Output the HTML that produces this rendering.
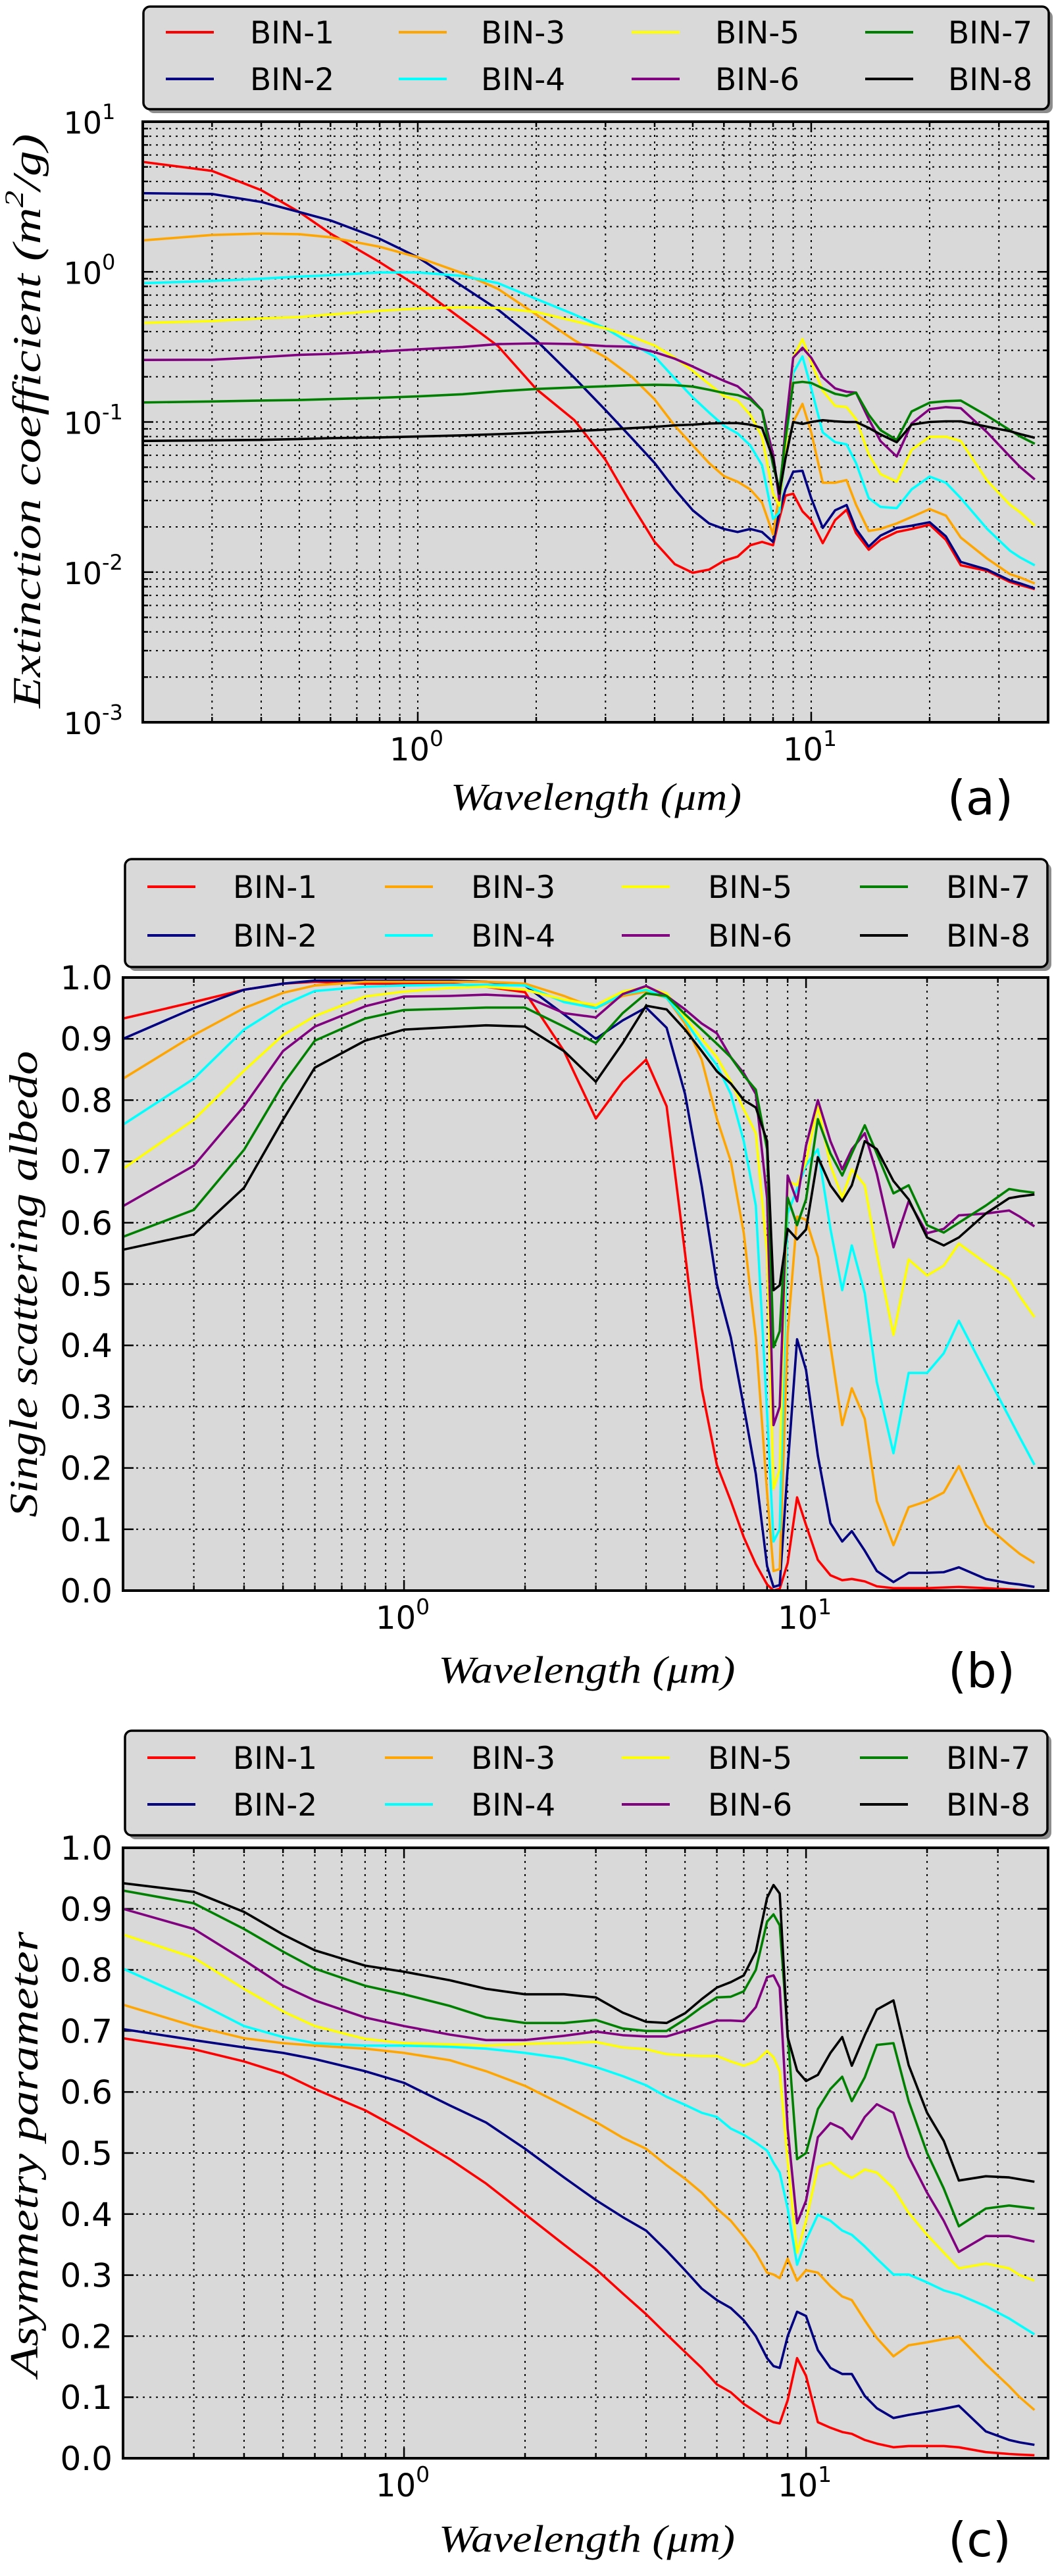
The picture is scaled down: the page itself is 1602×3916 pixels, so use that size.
<!DOCTYPE html>
<html><head><meta charset="utf-8"><style>
html,body{margin:0;padding:0;background:#fff;}
svg text{font-family:"DejaVu Sans","Liberation Sans",sans-serif;}
.ser{font-family:"Liberation Serif","DejaVu Serif",serif;font-style:italic;}
</style></head><body>
<svg id="fig" xmlns="http://www.w3.org/2000/svg" width="1602" height="3911" viewBox="0 0 1602 3911">
<rect x="0" y="0" width="1602" height="3911" fill="#ffffff"/>
</svg>
<script>
const wavelengths = [0.2,0.3,0.4,0.5,0.6,0.8,1.0,1.3,1.6,2.0,2.5,3.0,3.5,4.0,4.5,5.0,5.5,6.0,6.5,7.0,7.5,8.0,8.3,8.6,9.0,9.5,10,10.7,11.5,12.3,13,14,15,16.5,18,20,22,24,28,32,34,37];
const binNames = ["BIN-1","BIN-2","BIN-3","BIN-4","BIN-5","BIN-6","BIN-7","BIN-8"];
const binColors = ["#ff0000","#000080","#ffa500","#00ffff","#ffff00","#800080","#008000","#000000"];

const extBin1 = [5.4,4.7,3.5,2.5,1.8,1.16,0.8,0.48,0.32,0.166,0.103,0.056,0.028,0.0159,0.0113,0.0099,0.0104,0.0119,0.0127,0.0151,0.0159,0.0151,0.0229,0.0323,0.0333,0.0254,0.0222,0.0156,0.0222,0.026,0.0182,0.0141,0.0164,0.0185,0.0194,0.0207,0.0164,0.0111,0.0102,0.0086,0.0082,0.0077];
const extBin2 = [3.34,3.3,2.92,2.5,2.2,1.66,1.25,0.8,0.56,0.35,0.197,0.12,0.078,0.0533,0.0356,0.0258,0.0211,0.0194,0.0185,0.0194,0.0185,0.0159,0.0254,0.0356,0.0466,0.0473,0.0311,0.0197,0.0258,0.028,0.0194,0.0148,0.0175,0.0197,0.0204,0.0215,0.0173,0.0117,0.0104,0.0088,0.0084,0.0078];
const extBin3 = [1.62,1.76,1.8,1.78,1.7,1.47,1.25,0.98,0.77,0.52,0.35,0.27,0.2,0.1415,0.0944,0.0698,0.0533,0.0436,0.04,0.0356,0.029,0.0178,0.0333,0.0589,0.1,0.132,0.0853,0.0394,0.0394,0.041,0.0281,0.0188,0.0194,0.0211,0.0233,0.0263,0.0238,0.017,0.0123,0.0097,0.0092,0.0084];
const extBin4 = [0.84,0.87,0.9,0.93,0.95,0.99,0.99,0.94,0.84,0.66,0.52,0.42,0.33,0.273,0.195,0.146,0.1156,0.0944,0.0839,0.0698,0.0515,0.0226,0.025,0.0652,0.212,0.273,0.1674,0.0853,0.0734,0.071,0.0533,0.0311,0.0272,0.0267,0.0356,0.0433,0.0394,0.0311,0.0194,0.0139,0.0125,0.0111];
const extBin5 = [0.457,0.47,0.49,0.5,0.52,0.55,0.57,0.58,0.575,0.54,0.47,0.42,0.37,0.323,0.268,0.219,0.179,0.149,0.139,0.1117,0.0798,0.0333,0.0277,0.0652,0.268,0.357,0.25,0.162,0.128,0.1256,0.1045,0.061,0.045,0.04,0.0652,0.0798,0.0798,0.0746,0.0407,0.0281,0.025,0.0204];
const extBin6 = [0.259,0.26,0.27,0.28,0.284,0.295,0.305,0.316,0.33,0.334,0.33,0.32,0.317,0.292,0.264,0.234,0.208,0.188,0.173,0.146,0.1195,0.061,0.03,0.0913,0.268,0.312,0.268,0.198,0.1674,0.159,0.157,0.1045,0.0746,0.0589,0.0977,0.1217,0.1256,0.1236,0.0853,0.0589,0.05,0.0414];
const extBin7 = [0.135,0.137,0.139,0.14,0.142,0.145,0.148,0.153,0.16,0.166,0.17,0.173,0.176,0.177,0.176,0.172,0.164,0.156,0.151,0.1415,0.1195,0.0515,0.0356,0.077,0.182,0.185,0.182,0.1674,0.154,0.149,0.157,0.1117,0.0882,0.0759,0.1175,0.1345,0.1377,0.139,0.11,0.0882,0.08,0.0716];
const extBin8 = [0.0748,0.0755,0.076,0.077,0.078,0.079,0.08,0.0815,0.083,0.085,0.087,0.089,0.091,0.0928,0.095,0.096,0.0977,0.0983,0.0983,0.096,0.0913,0.057,0.0333,0.057,0.1,0.097,0.1,0.1028,0.101,0.1,0.1,0.0913,0.0826,0.0734,0.096,0.1,0.101,0.101,0.093,0.0868,0.083,0.0785];

const ssaBin1 = [0.933,0.96,0.98,0.99,0.993,0.99,0.99,0.99,0.985,0.976,0.88,0.77,0.83,0.866,0.79,0.55,0.33,0.205,0.146,0.087,0.043,0.01,0.0,0.003,0.045,0.152,0.107,0.05,0.025,0.017,0.019,0.015,0.007,0.004,0.004,0.004,0.005,0.006,0.004,0.002,0.001,0.0];
const ssaBin2 = [0.90,0.95,0.98,0.99,0.995,0.995,0.995,0.995,0.993,0.987,0.94,0.90,0.93,0.951,0.918,0.81,0.66,0.50,0.413,0.30,0.19,0.04,0.006,0.009,0.20,0.41,0.36,0.22,0.11,0.08,0.097,0.065,0.032,0.014,0.029,0.029,0.03,0.038,0.019,0.012,0.01,0.006];
const ssaBin3 = [0.835,0.906,0.95,0.975,0.987,0.993,0.993,0.993,0.993,0.99,0.97,0.95,0.97,0.977,0.967,0.925,0.866,0.77,0.70,0.583,0.413,0.16,0.032,0.035,0.42,0.61,0.605,0.544,0.40,0.27,0.33,0.28,0.146,0.074,0.136,0.146,0.16,0.203,0.107,0.074,0.06,0.045];
const ssaBin4 = [0.76,0.835,0.915,0.955,0.978,0.985,0.987,0.988,0.988,0.987,0.96,0.95,0.973,0.98,0.967,0.93,0.89,0.857,0.81,0.733,0.628,0.29,0.08,0.10,0.615,0.655,0.694,0.72,0.59,0.49,0.563,0.485,0.34,0.224,0.355,0.355,0.387,0.44,0.355,0.283,0.25,0.205];
const ssaBin5 = [0.688,0.768,0.848,0.906,0.937,0.969,0.977,0.983,0.985,0.98,0.964,0.955,0.977,0.984,0.974,0.935,0.90,0.87,0.83,0.785,0.746,0.55,0.166,0.198,0.668,0.661,0.70,0.79,0.694,0.641,0.687,0.661,0.55,0.417,0.54,0.514,0.53,0.566,0.534,0.508,0.48,0.446];
const ssaBin6 = [0.627,0.693,0.79,0.88,0.92,0.953,0.969,0.97,0.972,0.969,0.942,0.935,0.973,0.986,0.97,0.948,0.925,0.909,0.87,0.844,0.81,0.64,0.27,0.30,0.677,0.635,0.726,0.80,0.733,0.687,0.72,0.746,0.68,0.56,0.635,0.583,0.59,0.612,0.615,0.62,0.61,0.594];
const ssaBin7 = [0.577,0.621,0.719,0.826,0.897,0.933,0.947,0.949,0.951,0.951,0.92,0.893,0.942,0.974,0.97,0.94,0.915,0.892,0.87,0.84,0.817,0.72,0.397,0.423,0.641,0.596,0.638,0.769,0.713,0.677,0.713,0.759,0.713,0.648,0.661,0.596,0.584,0.6,0.628,0.655,0.652,0.649];
const ssaBin8 = [0.556,0.581,0.657,0.768,0.853,0.897,0.915,0.919,0.922,0.92,0.88,0.83,0.893,0.954,0.948,0.915,0.88,0.847,0.827,0.80,0.788,0.733,0.49,0.498,0.59,0.573,0.589,0.707,0.661,0.635,0.661,0.733,0.72,0.668,0.638,0.576,0.563,0.576,0.615,0.64,0.643,0.646];

const asyBin1 = [0.688,0.67,0.65,0.63,0.605,0.57,0.535,0.49,0.45,0.40,0.35,0.31,0.27,0.236,0.203,0.174,0.148,0.121,0.108,0.089,0.076,0.064,0.059,0.057,0.095,0.164,0.135,0.059,0.05,0.043,0.04,0.03,0.024,0.018,0.02,0.02,0.02,0.018,0.01,0.007,0.006,0.005];
const asyBin2 = [0.703,0.685,0.673,0.664,0.654,0.634,0.615,0.578,0.55,0.507,0.46,0.423,0.395,0.373,0.34,0.308,0.278,0.259,0.246,0.226,0.2,0.164,0.151,0.148,0.2,0.24,0.233,0.177,0.148,0.138,0.138,0.102,0.082,0.066,0.071,0.076,0.081,0.086,0.044,0.03,0.026,0.022];
const asyBin3 = [0.743,0.708,0.688,0.68,0.676,0.671,0.664,0.652,0.634,0.61,0.578,0.551,0.525,0.507,0.48,0.458,0.435,0.409,0.389,0.363,0.337,0.304,0.301,0.295,0.327,0.291,0.308,0.304,0.282,0.265,0.259,0.226,0.197,0.167,0.185,0.19,0.195,0.199,0.154,0.118,0.1,0.079];
const asyBin4 = [0.802,0.75,0.708,0.69,0.68,0.676,0.676,0.674,0.671,0.664,0.655,0.641,0.626,0.611,0.592,0.579,0.566,0.559,0.54,0.53,0.517,0.504,0.484,0.468,0.409,0.317,0.357,0.399,0.389,0.373,0.366,0.347,0.327,0.301,0.301,0.288,0.275,0.268,0.249,0.229,0.218,0.203];
const asyBin5 = [0.858,0.82,0.769,0.732,0.708,0.687,0.68,0.678,0.676,0.679,0.68,0.682,0.673,0.67,0.662,0.66,0.659,0.659,0.65,0.643,0.65,0.667,0.657,0.634,0.487,0.337,0.389,0.477,0.484,0.468,0.459,0.473,0.468,0.442,0.402,0.366,0.337,0.311,0.319,0.311,0.3,0.291];
const asyBin6 = [0.9,0.867,0.816,0.774,0.75,0.722,0.708,0.694,0.685,0.685,0.692,0.699,0.693,0.691,0.691,0.7,0.709,0.717,0.717,0.716,0.739,0.788,0.791,0.771,0.54,0.385,0.422,0.526,0.549,0.54,0.523,0.559,0.58,0.566,0.494,0.435,0.389,0.338,0.364,0.364,0.36,0.355];
const asyBin7 = [0.93,0.909,0.867,0.83,0.802,0.774,0.76,0.741,0.722,0.713,0.713,0.718,0.704,0.7,0.7,0.719,0.739,0.755,0.756,0.765,0.8,0.879,0.891,0.873,0.696,0.49,0.5,0.572,0.605,0.625,0.585,0.624,0.677,0.68,0.585,0.5,0.442,0.38,0.409,0.414,0.412,0.409];
const asyBin8 = [0.942,0.928,0.895,0.858,0.832,0.807,0.797,0.783,0.769,0.76,0.76,0.755,0.73,0.715,0.713,0.729,0.752,0.771,0.78,0.791,0.83,0.918,0.939,0.925,0.69,0.635,0.618,0.628,0.664,0.69,0.643,0.693,0.735,0.75,0.644,0.566,0.52,0.455,0.462,0.46,0.457,0.453];

const linearTicks = ["0.0","0.1","0.2","0.3","0.4","0.5","0.6","0.7","0.8","0.9","1.0"];
const logTickExps = ["1","0","-1","-2","-3"];
const xTickExps = ["0","1"];

const NS = "http://www.w3.org/2000/svg";
const fig = document.getElementById("fig");
function mk(tag, attrs, parent){ const e=document.createElementNS(NS,tag); for(const k in attrs) e.setAttribute(k,attrs[k]); (parent||fig).appendChild(e); return e; }

const XMIN=0.2, XMAX=40;
const panels = [
  {id:"a", left:217, right:1593, top:185, bottom:1098, log:true,
   series:[extBin1,extBin2,extBin3,extBin4,extBin5,extBin6,extBin7,extBin8],
   legend:{x:218,y:10,w:1376,h:156,lineX:[252,606,960,1315],textX:[380,731,1087,1441],rows:[49,120]},
   ylabel:{text:"Extinction coefficient (m",sup:"2",tail:"/g)",x:41,y:640,len:873},
   xlabel:{x:906,y:1213,len:442}, tag:{t:"(a)",x:1490,y:1213}},
  {id:"b", left:187, right:1593, top:1486, bottom:2418, log:false,
   series:[ssaBin1,ssaBin2,ssaBin3,ssaBin4,ssaBin5,ssaBin6,ssaBin7,ssaBin8],
   legend:{x:190,y:1306,w:1402,h:164,lineX:[224,585,945,1307],textX:[354,716,1076,1438],rows:[1348,1422]},
   ylabel:{text:"Single scattering albedo",x:36,y:1952,len:709},
   xlabel:{x:892,y:2540,len:451}, tag:{t:"(b)",x:1492,y:2540}},
  {id:"c", left:187, right:1593, top:2809, bottom:3737, log:false,
   series:[asyBin1,asyBin2,asyBin3,asyBin4,asyBin5,asyBin6,asyBin7,asyBin8],
   legend:{x:190,y:2631,w:1402,h:159,lineX:[224,585,945,1307],textX:[354,716,1076,1438],rows:[2672,2743]},
   ylabel:{text:"Asymmetry parameter",x:37,y:3275,len:677},
   xlabel:{x:892,y:3861,len:450}, tag:{t:"(c)",x:1489,y:3861}}
];

panels.forEach(p=>{
  const g = mk("g",{});
  
  
  const xs = v => p.left + (Math.log10(v)-Math.log10(XMIN))/(Math.log10(XMAX)-Math.log10(XMIN))*(p.right-p.left);
  const ys = p.log ? (v => p.top + (1-Math.log10(v))/4*(p.bottom-p.top))
                   : (v => p.bottom - v*(p.bottom-p.top));
  const bg = mk("rect",{x:p.left,y:p.top,width:p.right-p.left,height:p.bottom-p.top,fill:"#d9d9d9"},g);
  
  
  const grid = mk("g",{stroke:"#000","stroke-width":"2","stroke-dasharray":"3,7",fill:"none"},g);
  
  
  const ticks = mk("g",{stroke:"#000","stroke-width":"2.5"},g);
  // x grid
  const xMinor=[], xMajor=[1,10];
  [0.3,0.4,0.5,0.6,0.7,0.8,0.9,2,3,4,5,6,7,8,9,20,30].forEach(v=>xMinor.push(v));
  xMinor.concat(xMajor).forEach(v=>{
    const x=xs(v);
    mk("line",{x1:x,y1:p.top,x2:x,y2:p.bottom},grid);
    const L = xMajor.includes(v)?16:8;
    mk("line",{x1:x,y1:p.bottom,x2:x,y2:p.bottom-L},ticks);
    mk("line",{x1:x,y1:p.top,x2:x,y2:p.top+L},ticks);
  });
  xTickExps.forEach(e=>{
    const x=xs(Math.pow(10,+e));
    const t=mk("text",{x:x-2,y:p.bottom+58,"font-size":"48","text-anchor":"middle",fill:"#000"},g);
    
    
    t.appendChild(document.createTextNode("10"));
    const s=mk("tspan",{dy:"-22","font-size":"33"},t); s.textContent=e;
  });
  if(p.log){
    for(let d=-3; d<1; d++){
      for(let m=2;m<10;m++){ const y=ys(m*Math.pow(10,d)); mk("line",{x1:p.left,y1:y,x2:p.right,y2:y},grid);
        mk("line",{x1:p.left,y1:y,x2:p.left+8,y2:y},ticks); mk("line",{x1:p.right,y1:y,x2:p.right-8,y2:y},ticks); }
    }
    logTickExps.forEach(e=>{
      const y=ys(Math.pow(10,+e));
      mk("line",{x1:p.left,y1:y,x2:p.right,y2:y},grid);
      mk("line",{x1:p.left,y1:y,x2:p.left+16,y2:y},ticks); mk("line",{x1:p.right,y1:y,x2:p.right-16,y2:y},ticks);
      const t=mk("text",{x:p.left-62,y:y+18,"font-size":"46","text-anchor":"end",fill:"#000"},g);
      
      
      t.appendChild(document.createTextNode("10"));
      const s=mk("tspan",{x:p.left-62,y:y-4,"font-size":"32","text-anchor":"start"},t); s.textContent=e;
    });
  } else {
    linearTicks.forEach(lbl=>{
      const y=ys(parseFloat(lbl));
      mk("line",{x1:p.left,y1:y,x2:p.right,y2:y},grid);
      mk("line",{x1:p.left,y1:y,x2:p.left+16,y2:y},ticks); mk("line",{x1:p.right,y1:y,x2:p.right-16,y2:y},ticks);
      const t=mk("text",{x:p.left-16,y:y+18,"font-size":"50","text-anchor":"end",fill:"#000"},g);
      
      
      t.textContent=lbl;
    });
  }
  // series
  const clipId="clip"+p.id;
  const cp=mk("clipPath",{id:clipId},g); mk("rect",{x:p.left,y:p.top,width:p.right-p.left,height:p.bottom-p.top},cp);
  const sg=mk("g",{"clip-path":"url(#"+clipId+")"},g);
  p.series.forEach((arr,i)=>{
    const pts=arr.map((v,j)=>xs(wavelengths[j]).toFixed(1)+","+ys(p.log?Math.max(v,1e-3):v).toFixed(1)).join(" ");
    const pl=mk("polyline",{points:pts,fill:"none",stroke:binColors[i],"stroke-width":"3.6","stroke-linejoin":"round"},sg);
    
    
  });
  const frame=mk("rect",{x:p.left,y:p.top,width:p.right-p.left,height:p.bottom-p.top,fill:"none",stroke:"#000","stroke-width":"4"},g);
  
  
  // legend
  const lg=mk("g",{},g);
  
  
  const L=p.legend;
  mk("rect",{x:L.x+6,y:L.y+6,width:L.w,height:L.h,rx:10,fill:"#8c8c8c"},lg);
  mk("rect",{x:L.x,y:L.y,width:L.w,height:L.h,rx:10,fill:"#d9d9d9",stroke:"#000","stroke-width":"3.5"},lg);
  binNames.forEach((n,i)=>{
    const col=Math.floor(i/2), row=i%2;
    const y=L.rows[row];
    const e=mk("g",{},lg);
    
    
    mk("line",{x1:L.lineX[col],y1:y,x2:L.lineX[col]+73,y2:y,stroke:binColors[i],"stroke-width":"4"},e);
    const t=mk("text",{x:L.textX[col],y:y+17,"font-size":"47",fill:"#000"},e);
    t.textContent=n;
  });
  // labels
  const yl=p.ylabel;
  const yt=mk("text",{class:"ser",x:yl.x,y:yl.y,"font-size":"60","text-anchor":"middle","dominant-baseline":"central",transform:"rotate(-90 "+yl.x+" "+yl.y+")",textLength:yl.len,lengthAdjust:"spacingAndGlyphs",fill:"#000"},g);
  
  
  yt.appendChild(document.createTextNode(yl.text));
  if(yl.sup){ const s=mk("tspan",{dy:"-20","font-size":"40"},yt); s.textContent=yl.sup; const s2=mk("tspan",{dy:"20"},yt); s2.textContent=yl.tail; }
  const xl=p.xlabel;
  const xt=mk("text",{class:"ser",x:xl.x,y:xl.y+18,"font-size":"58","text-anchor":"middle",textLength:xl.len,lengthAdjust:"spacingAndGlyphs",fill:"#000"},g);
  
  
  xt.textContent="Wavelength (\u03bcm)";
  const tg=mk("text",{x:p.tag.x,y:p.tag.y+25,"font-size":"72","text-anchor":"middle",fill:"#000"},g);
  
  
  tg.textContent=p.tag.t;
});
</script>
</body></html>
